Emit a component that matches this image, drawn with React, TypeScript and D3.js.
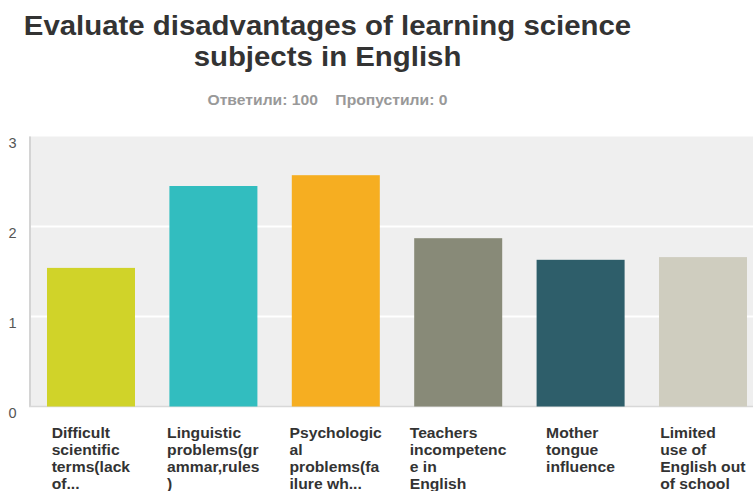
import React, { useEffect, useRef } from 'react'
import * as d3 from 'd3'

const categories = [
  'Difficult scientific terms(lack of...',
  'Linguistic problems(grammar,rules)',
  'Psychological problems(failure wh...',
  'Teachers incompetence in English',
  'Mother tongue influence',
  'Limited use of English out of school',
]
const labelLines = [
  ['Difficult', 'scientific', 'terms(lack', 'of...'],
  ['Linguistic', 'problems(gr', 'ammar,rules', ')'],
  ['Psychologic', 'al', 'problems(fa', 'ilure wh...'],
  ['Teachers', 'incompetenc', 'e in', 'English'],
  ['Mother', 'tongue', 'influence'],
  ['Limited', 'use of', 'English out', 'of school'],
]
const values = [1.54, 2.45, 2.57, 1.87, 1.63, 1.66]
const colors = ['#D0D329', '#32BDBF', '#F6AE21', '#888A78', '#2E5E6A', '#CFCDBF']
const yTicks = [0, 1, 2, 3]
const titleLines = ['Evaluate disadvantages of learning science', 'subjects in English']
const subtitle = 'Ответили: 100    Пропустили: 0'

const W = 753
const H = 491
const FONT = '"Liberation Sans", Arial, sans-serif'
const STRETCH = 1.12 // the reference is a little wider than plain Arial

export default function App() {
  const ref = useRef<SVGSVGElement>(null)

  useEffect(() => {
    const svg = d3.select(ref.current)
    svg.selectAll('*').remove()

    const left = 29
    const right = 765
    const top = 136.5
    const bottom = 406.5

    const x = d3.scaleBand<string>()
      .domain(categories)
      .range([left, right])
      .paddingInner(0.281)
      .paddingOuter(0.147)

    const y = d3.scaleLinear().domain([0, 3]).range([bottom, top])

    // title, stretched horizontally like the reference
    const cx0 = 327.5
    svg.append('g')
      .attr('transform', `translate(${cx0},0) scale(1.05,1)`)
      .selectAll('text')
      .data(titleLines)
      .join('text')
      .attr('x', 0)
      .attr('y', (d, i) => 35 + i * 31)
      .attr('text-anchor', 'middle')
      .attr('font-family', FONT)
      .attr('font-weight', 'bold')
      .attr('font-size', 28)
      .attr('fill', '#333')
      .text(d => d)

    svg.append('g')
      .attr('transform', `translate(${cx0},0) scale(${STRETCH},1)`)
      .append('text')
      .attr('x', 0)
      .attr('y', 105)
      .attr('text-anchor', 'middle')
      .attr('font-family', FONT)
      .attr('font-weight', 'bold')
      .attr('font-size', 14)
      .attr('fill', '#999')
      .style('white-space', 'pre')
      .text(subtitle)

    // plot background
    svg.append('rect')
      .attr('x', left)
      .attr('y', top)
      .attr('width', W - left)
      .attr('height', bottom - top)
      .attr('fill', '#efefef')

    // gridlines
    svg.append('g')
      .selectAll('line')
      .data(yTicks.filter(t => t > 0 && t < 3))
      .join('line')
      .attr('x1', left)
      .attr('x2', W)
      .attr('y1', d => y(d))
      .attr('y2', d => y(d))
      .attr('stroke', '#fff')
      .attr('stroke-width', 2)

    // axis lines
    svg.append('line')
      .attr('x1', left + 1).attr('x2', left + 1)
      .attr('y1', top).attr('y2', bottom)
      .attr('stroke', '#d4d4d4').attr('stroke-width', 2)
    svg.append('line')
      .attr('x1', left).attr('x2', W)
      .attr('y1', bottom).attr('y2', bottom)
      .attr('stroke', '#d8d8d8').attr('stroke-width', 1.5)

    // y tick labels
    svg.append('g')
      .selectAll('text')
      .data(yTicks)
      .join('text')
      .attr('x', 12.5)
      .attr('y', d => y(d) + 11)
      .attr('text-anchor', 'middle')
      .attr('font-family', FONT)
      .attr('font-size', 14.5)
      .attr('fill', '#555')
      .text(d => d)

    // bars
    svg.append('g')
      .selectAll('rect')
      .data(values)
      .join('rect')
      .attr('x', (d, i) => x(categories[i])!)
      .attr('y', d => y(d))
      .attr('width', x.bandwidth())
      .attr('height', d => y(0) - y(d))
      .attr('fill', (d, i) => colors[i])

    // x labels: left-aligned lines, block centred under bar
    const lg = svg.append('g')
    labelLines.forEach((lines, i) => {
      const g = lg.append('g')
      g.selectAll('text')
        .data(lines)
        .join('text')
        .attr('x', 0)
        .attr('y', (d, j) => 438 + j * 17)
        .attr('font-family', FONT)
        .attr('font-weight', 'bold')
        .attr('font-size', 14)
        .attr('fill', '#333')
        .text(d => d)
      const w = (g.node() as SVGGElement).getBBox().width * STRETCH
      const cx = x(categories[i])! + x.bandwidth() / 2
      g.attr('transform', `translate(${cx - w / 2},0) scale(${STRETCH},1)`)
    })
  }, [])

  return (
    <svg ref={ref} width={W} height={H} style={{ position: 'absolute', left: 0, top: 0 }} />
  )
}
